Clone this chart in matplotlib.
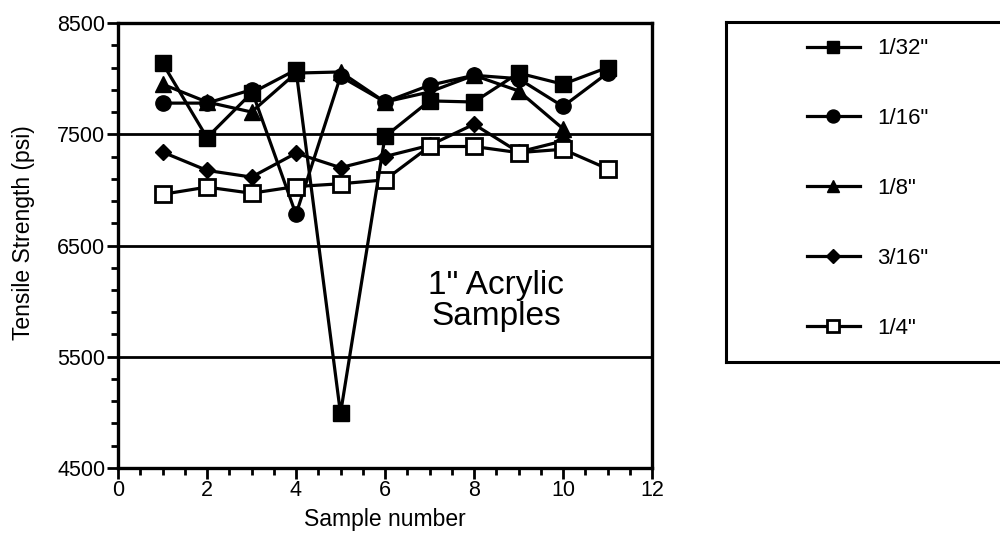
import matplotlib
matplotlib.use("Agg")
import matplotlib.pyplot as plt
from matplotlib.ticker import MultipleLocator

plt.rcParams['font.family'] = ['Liberation Sans', 'DejaVu Sans']

# sample numbers
x_all = [1, 2, 3, 4, 5, 6, 7, 8, 9, 10, 11]
x_ten = [1, 2, 3, 4, 5, 6, 7, 8, 9, 10]

# tensile strength (psi) for each thickness
s_1_32 = [8140, 7470, 7870, 8080, 4990, 7480, 7800, 7790, 8050, 7950, 8100]
s_1_16 = [7780, 7780, 7900, 6780, 8020, 7790, 7940, 8030, 8000, 7750, 8050]
s_1_8 = [7950, 7790, 7700, 8050, 8060, 7790, 7880, 8030, 7890, 7550]
s_3_16 = [7340, 7175, 7115, 7330, 7200, 7300, 7400, 7590, 7340, 7440]
s_1_4 = [6960, 7025, 6970, 7030, 7055, 7090, 7390, 7390, 7335, 7365, 7190]

labels = ['1/32"', '1/16"', '1/8"', '3/16"', '1/4"']

fig = plt.figure(figsize=(10, 5.48), dpi=100)
ax = fig.add_axes([0.118, 0.146, 0.534, 0.812])

lw = 2.3
kw = dict(color='black', linewidth=lw, clip_on=False)
h1, = ax.plot(x_all, s_1_32, marker='s', markersize=11, zorder=5, **kw)
h2, = ax.plot(x_all, s_1_16, marker='o', markersize=11, zorder=3, **kw)
h3, = ax.plot(x_ten, s_1_8, marker='^', markersize=11, zorder=4, **kw)
h4, = ax.plot(x_ten, s_3_16, marker='D', markersize=8, zorder=3, **kw)
h5, = ax.plot(x_all, s_1_4, marker='s', markersize=11, markerfacecolor='white',
              markeredgewidth=2, zorder=4, **kw)

# horizontal grid lines
for yv in [5500, 6500, 7500]:
    ax.axhline(yv, color='black', linewidth=2, zorder=1)

ax.set_xlim(0, 12)
ax.set_ylim(4500, 8500)
ax.xaxis.set_major_locator(MultipleLocator(2))
ax.xaxis.set_minor_locator(MultipleLocator(0.5))
ax.yaxis.set_major_locator(MultipleLocator(1000, offset=500))
ax.yaxis.set_minor_locator(MultipleLocator(200, offset=100))
ax.tick_params(axis='both', which='major', direction='out', length=8, width=2,
               labelsize=15.5, pad=1)
ax.tick_params(axis='both', which='minor', direction='out', length=5, width=2)
for sp in ax.spines.values():
    sp.set_linewidth(2.4)

ax.set_xlabel('Sample number', fontsize=16.5, labelpad=5)
ax.set_ylabel('Tensile Strength (psi)', fontsize=16.5)
ax.yaxis.set_label_coords(-0.155, 0.53)

ax.text(8.5, 6000, '1" Acrylic\nSamples', fontsize=24, ha='center', va='center',
        linespacing=1.0)

# legend box
lax = fig.add_axes([0.726, 1 - 362 / 548, 0.32, (362 - 22) / 548])
lax.set_xticks([])
lax.set_yticks([])
for sp in lax.spines.values():
    sp.set_linewidth(2.2)
lax.legend([h1, h2, h3, h4, h5], labels, loc='center left', bbox_to_anchor=(0.19, 0.51),
           frameon=False, fontsize=16, handlelength=2.4, handletextpad=0.75,
           labelspacing=2.2, markerscale=0.85)

fig.savefig('out.png', dpi=100)
